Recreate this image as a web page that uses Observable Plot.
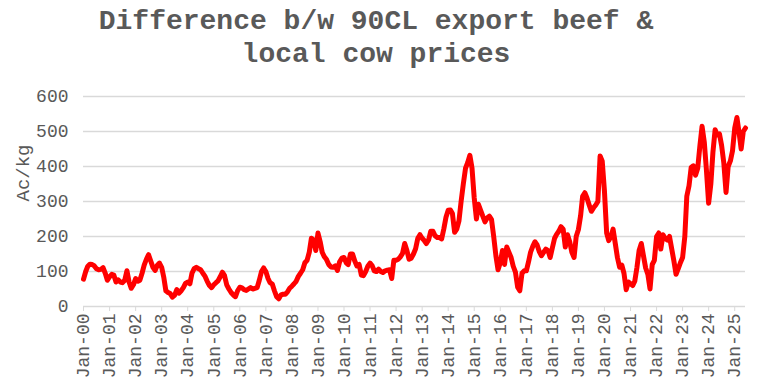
<!DOCTYPE html>
<html><head><meta charset="utf-8">
<script src="https://cdn.jsdelivr.net/npm/d3@7"></script>
<script src="https://cdn.jsdelivr.net/npm/@observablehq/plot@0.6"></script>
<style>
body{margin:0;background:#fff;width:764px;height:379px;overflow:hidden}
#title{font-family:"Liberation Mono","Courier New",monospace;font-weight:bold;font-size:28px;line-height:33px;color:#595959;text-align:center;height:75px;padding-top:5px;box-sizing:border-box;width:752px;}
#chart svg{display:block}
</style></head><body>
<div id="title">Difference b/w 90CL export beef &amp;<br>local cow prices</div>
<div id="chart"></div>
<script>
const titleText = "Difference b/w 90CL export beef & local cow prices";
const yLabel = "Ac/kg";
const firstYear = 2000;
const lastYear = 2025;
const values = [
 78,100,115,121,120,116,108,105,106,111,95,75,
 85,92,90,70,76,70,68,75,102,70,52,62,
 80,72,75,95,118,135,148,130,112,103,118,124,
 112,82,45,40,37,27,32,48,38,45,54,66,
 70,65,95,108,112,108,105,95,86,72,60,54,
 62,68,73,85,98,88,62,50,40,33,28,45,
 55,53,48,46,50,54,50,52,54,75,100,110,
 100,80,68,64,45,28,22,33,35,35,42,52,
 58,65,72,86,95,105,125,132,155,195,190,160,
 210,185,155,142,134,120,113,112,116,103,128,138,
 140,125,120,150,150,130,116,120,90,88,100,115,
 124,116,102,100,107,100,97,102,104,105,80,132,
 132,135,142,152,180,160,135,138,150,165,195,205,
 195,188,180,190,215,215,202,197,197,193,222,255,
 275,276,266,212,221,245,300,350,395,411,432,395,
 310,250,292,275,258,242,253,258,248,200,145,105,
 125,160,120,170,155,140,115,98,55,45,95,102,
 102,128,155,172,185,176,157,145,155,164,160,140,
 168,195,206,215,228,221,170,205,185,155,140,200,
 220,260,315,325,310,290,272,282,290,300,430,415,
 330,210,188,200,221,180,140,112,118,95,48,70,
 65,60,72,112,160,180,145,110,92,50,120,132,
 200,210,164,205,195,190,200,165,130,92,108,125,
 140,200,315,345,397,402,375,395,460,515,470,390,
 295,350,440,505,490,493,460,410,326,400,416,445,
 510,540,500,450,500,510
];
const yTicks = [0,100,200,300,400,500,600];
const yearTicks = d3.range(firstYear, lastYear + 1).map(y => new Date(Date.UTC(y,0,1)));
const data = values.map((v,i) => ({date: new Date(Date.UTC(firstYear, i, 1)), value: v}));
const font = '"Liberation Mono","Courier New",monospace';
const chart = Plot.plot({
  width: 764, height: 304,
  marginTop: 21, marginBottom: 73, marginLeft: 83, marginRight: 19,
  style: {fontFamily: font, fontSize: "18px", color: "#595959", background: "#fff"},
  x: {type: "utc", domain: [data[0].date, data[data.length-1].date]},
  y: {domain: [0, 600]},
  marks: [
    Plot.ruleY(yTicks, {stroke: "#d9d9d9", strokeWidth: 1.5}),
    Plot.axisY(yTicks, {tickSize: 0, tickPadding: 15, label: null, fontSize: 18, fill: "#595959"}),
    Plot.axisX(yearTicks, {tickSize: 5, tickPadding: 2, tickRotate: -90, label: null, stroke: "#d9d9d9", fill: "#595959", fontSize: 18,
      tickFormat: d => "Jan-" + String(d.getUTCFullYear()).slice(2)}),
    Plot.lineY(data, {x: "date", y: "value", stroke: "#ff0000", strokeWidth: 5, strokeLinejoin: "round", strokeLinecap: "round"}),
    Plot.text([yLabel], {frameAnchor: "left", dx: -61, rotate: -90, fontSize: 19, fill: "#595959"})
  ]
});
document.getElementById("chart").appendChild(chart);
</script>
</body></html>
